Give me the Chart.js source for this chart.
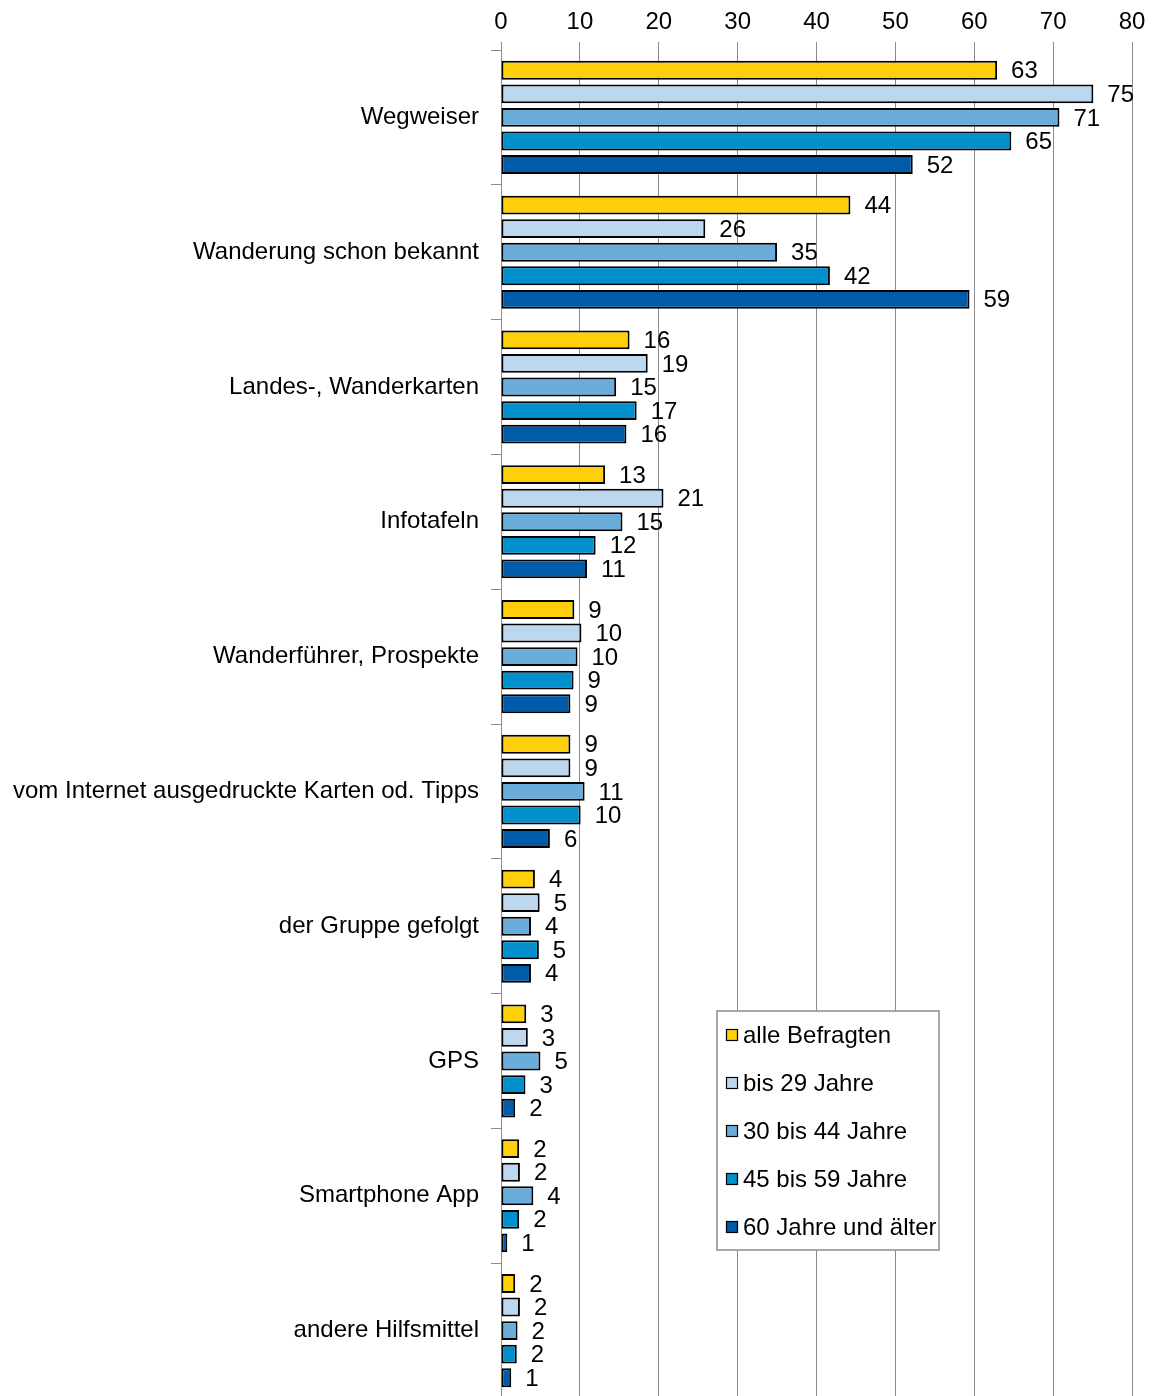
<!DOCTYPE html>
<html><head><meta charset="utf-8">
<script src="https://cdn.jsdelivr.net/npm/chart.js@4.4.0/dist/chart.umd.min.js"></script>
<style>html,body{margin:0;padding:0;background:#fff;overflow:hidden;}</style>
</head><body>
<canvas id="c" width="1153" height="1398"></canvas>
<script>
const categories = ["Wegweiser","Wanderung schon bekannt","Landes-, Wanderkarten","Infotafeln","Wanderführer, Prospekte","vom Internet ausgedruckte Karten od. Tipps","der Gruppe gefolgt","GPS","Smartphone App","andere Hilfsmittel"];
const seriesNames = ["alle Befragten","bis 29 Jahre","30 bis 44 Jahre","45 bis 59 Jahre","60 Jahre und älter"];
const alleBefragten = [62.9,44.3,16.3,13.2,9.3,8.8,4.3,3.2,2.3,1.8];
const bis29Jahre    = [75.1,25.9,18.6,20.6,10.2,8.8,4.9,3.4,2.4,2.4];
const von30bis44    = [70.8,35.0,14.6,15.4,9.7,10.6,3.8,5.0,4.1,2.1];
const von45bis59    = [64.7,41.7,17.2,12.0,9.2,10.1,4.8,3.1,2.3,2.0];
const ab60Jahre     = [52.2,59.4,15.9,10.9,8.8,6.2,3.8,1.8,0.8,1.3];
const xTickValues = [0,10,20,30,40,50,60,70,80];
const colors = ["#FFCF0B","#BDD7EE","#6AADDB","#0090CC","#005CA8"];

const FONT = "'Liberation Sans', Arial, sans-serif";

const valueLabels = {
  id: 'valueLabels',
  afterDatasetsDraw(chart) {
    const ctx = chart.ctx;
    ctx.save();
    ctx.font = "24px " + FONT;
    ctx.fillStyle = "#000";
    ctx.textAlign = "left";
    ctx.textBaseline = "middle";
    chart.data.datasets.forEach((ds, di) => {
      const meta = chart.getDatasetMeta(di);
      meta.data.forEach((el, i) => {
        ctx.fillText(String(Math.round(ds.data[i])), el.x + 14, el.y + 1.5);
      });
    });
    ctx.restore();
  }
};

const boxLegend = {
  id: 'boxLegend',
  afterDraw(chart) {
    const ctx = chart.ctx;
    const ca = chart.chartArea;
    const left = ca.left + 216, top = ca.top + 961, w = 222, h = 239;
    ctx.save();
    ctx.fillStyle = "#fff";
    ctx.fillRect(left, top, w, h);
    ctx.strokeStyle = "#8c8c8c";
    ctx.lineWidth = 1.5;
    ctx.strokeRect(left, top, w, h);
    ctx.font = "24px " + FONT;
    ctx.textBaseline = "middle";
    ctx.textAlign = "left";
    chart.data.datasets.forEach((ds, i) => {
      const cy = top + 24 + i * 48;
      ctx.fillStyle = ds.backgroundColor;
      ctx.fillRect(left + 9.5, cy - 5.5, 11, 11);
      ctx.strokeStyle = "#000";
      ctx.lineWidth = 1.2;
      ctx.strokeRect(left + 9.5, cy - 5.5, 11, 11);
      ctx.fillStyle = "#000";
      ctx.fillText(ds.label, left + 26, cy + 1);
    });
    ctx.restore();
  }
};

const seriesData = [alleBefragten, bis29Jahre, von30bis44, von45bis59, ab60Jahre];

new Chart(document.getElementById('c'), {
  type: 'bar',
  data: {
    labels: categories,
    datasets: seriesNames.map((n, i) => ({
      label: n,
      data: seriesData[i],
      backgroundColor: colors[i],
      borderColor: "#000",
      borderWidth: 2,
      borderSkipped: false,
      categoryPercentage: 0.874,
      barPercentage: 0.8
    }))
  },
  options: {
    indexAxis: 'y',
    responsive: false,
    animation: false,
    devicePixelRatio: 1,
    layout: { padding: { left: 0, right: 21, top: 0, bottom: 0 } },
    plugins: { legend: { display: false }, tooltip: { enabled: false } },
    scales: {
      x: {
        type: 'linear',
        position: 'top',
        min: 0, max: 80,
        afterBuildTicks(scale) { scale.ticks = xTickValues.map(v => ({ value: v })); },
        afterFit(scale) { scale.height = 50; },
        ticks: { font: { size: 24, family: FONT }, color: "#000", padding: 5 },
        grid: { color: "#8c8c8c", lineWidth: 1, tickLength: 8, drawTicks: true },
        border: { display: false }
      },
      y: {
        type: 'category',
        afterFit(scale) { scale.width = 501; scale.paddingTop = 0; scale.paddingBottom = 0; },
        ticks: { font: { size: 24, family: FONT }, color: "#000", padding: 12 },
        grid: { offset: true, drawOnChartArea: false, tickLength: 10, color: "#8c8c8c" },
        border: { display: true, color: "#8c8c8c", width: 1 }
      }
    }
  },
  plugins: [valueLabels, boxLegend]
});
</script>
</body></html>
